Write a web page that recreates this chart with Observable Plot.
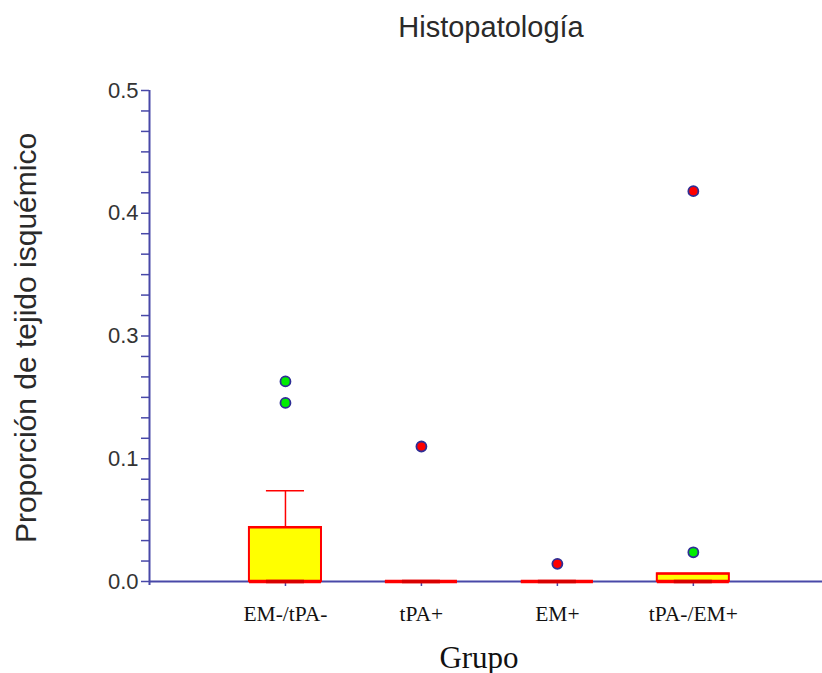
<!DOCTYPE html>
<html>
<head>
<meta charset="utf-8">
<script src="https://cdn.jsdelivr.net/npm/d3@7"></script>
<script src="https://cdn.jsdelivr.net/npm/@observablehq/plot@0.6"></script>
<style>
  body { margin: 0; background: #fff; }
</style>
</head>
<body>
<div id="chart"></div>
<script>
// ---- data ----
const groups = ["EM-/tPA-", "tPA+", "EM+", "tPA-/EM+"];
const q1 = [0, 0, 0, 0];
const medians = [0, 0, 0, 0];
const q3 = [0.044, 0, 0, 0.0063];
const whiskerHigh = [0.074, 0, 0, 0.0063];

const outlierGroup = ["EM-/tPA-", "EM-/tPA-", "tPA+", "EM+", "tPA-/EM+", "tPA-/EM+"];
const outlierValue = [0.226, 0.191, 0.120, 0.0144, 0.0238, 0.418];
const outlierKind  = ["outside", "outside", "far", "far", "outside", "far"];

const yTickValues = [0, 0.1, 0.3, 0.4, 0.5];

const titleText = "Histopatología";
const yLabelText = "Proporción de tejido isquémico";
const xLabelText = "Grupo";

// ---- layout / style ----
const W = 822, H = 673, mTop = 90, mBottom = 92, mLeft = 149, mRight = 0;
const axisBlue = "#4848a8";
const red = "#ff0000";
const yellow = "#ffff00";
const boxHalf = 0.265, capHalf = 0.14;

const boxes = groups.map((g, i) => ({group: g, pos: i + 1, q1: q1[i], median: medians[i], q3: q3[i], hi: whiskerHigh[i]}));
const outliers = outlierValue.map((v, i) => ({pos: groups.indexOf(outlierGroup[i]) + 1, value: v, kind: outlierKind[i]}));

// evenly spaced label positions (piecewise scale), 6 minor intervals per segment
const yRange = yTickValues.map((_, i) => (H - mBottom) - i * (H - mBottom - mTop) / (yTickValues.length - 1));
const yMinor = d3.pairs(yTickValues).flatMap(([a, b]) => d3.range(1, 6).map(k => a + (b - a) * k / 6));

const chart = Plot.plot({
  width: W, height: H,
  marginTop: mTop, marginBottom: mBottom, marginLeft: mLeft, marginRight: mRight,
  style: {fontFamily: "'Liberation Sans', Arial, sans-serif", fontSize: "22px", color: "#333", background: "#fff"},
  x: {type: "linear", domain: [0, 4.95], axis: null},
  y: {type: "linear", domain: yTickValues, range: yRange, axis: null},
  marks: [
    Plot.ruleY([0], {stroke: axisBlue, strokeWidth: 2}),
    Plot.ruleX([0], {stroke: axisBlue, strokeWidth: 2, insetBottom: -4}),
    Plot.axisY(yMinor, {tickSize: 8, stroke: axisBlue, strokeWidth: 1.5, fill: "none", label: null}),
    Plot.axisY({ticks: yTickValues, tickSize: 8, tickPadding: 3, stroke: axisBlue, strokeWidth: 1.5, fill: "#333", tickFormat: ".1f", fontSize: 22, label: null}),
    Plot.axisX({ticks: [1, 2, 3, 4], tickFormat: i => groups[i - 1], tickSize: 5, tickPadding: 19, stroke: axisBlue, strokeWidth: 1.5, fill: "#111", fontFamily: "'Liberation Serif', serif", fontSize: 21.5, label: null}),
    // whiskers
    Plot.ruleX(boxes.filter(d => d.hi > d.q3), {x: "pos", y1: "q3", y2: "hi", stroke: red, strokeWidth: 1.5}),
    Plot.ruleY(boxes.filter(d => d.hi > d.q3), {y: "hi", x1: d => d.pos - capHalf, x2: d => d.pos + capHalf, stroke: red, strokeWidth: 1.5}),
    // boxes
    Plot.rect(boxes, {x1: d => d.pos - boxHalf, x2: d => d.pos + boxHalf, y1: "q1", y2: "q3", fill: yellow, stroke: red, strokeWidth: 2}),
    Plot.ruleY(boxes, {y: "q1", x1: d => d.pos - boxHalf, x2: d => d.pos + boxHalf, stroke: red, strokeWidth: 3.5}),
    Plot.ruleY(boxes, {y: "q3", x1: d => d.pos - boxHalf, x2: d => d.pos + boxHalf, stroke: red, strokeWidth: 2}),
    // medians
    Plot.ruleY(boxes, {y: "median", x1: d => d.pos - capHalf, x2: d => d.pos + capHalf, stroke: "#d80000", strokeWidth: 3.5}),
    // outliers
    Plot.dot(outliers, {x: "pos", y: "value", r: 5, fill: d => d.kind === "far" ? "#ff0000" : "#00ee00", stroke: "#2e2e96", strokeWidth: 1.8}),
    // texts
    Plot.text([titleText], {frameAnchor: "top", lineAnchor: "bottom", dy: -54, dx: 5, fontSize: 29, fill: "#2a2a2a"}),
    Plot.text([yLabelText], {frameAnchor: "left", textAnchor: "middle", lineAnchor: "middle", rotate: -90, dx: -123, dy: 2, fontSize: 30, fill: "#2a2a2a"}),
    Plot.text([xLabelText], {frameAnchor: "bottom", lineAnchor: "bottom", dy: 86, dx: -7, fontSize: 31, fontFamily: "'Liberation Serif', serif", fill: "#111"})
  ]
});
document.getElementById("chart").append(chart);
</script>
</body>
</html>
